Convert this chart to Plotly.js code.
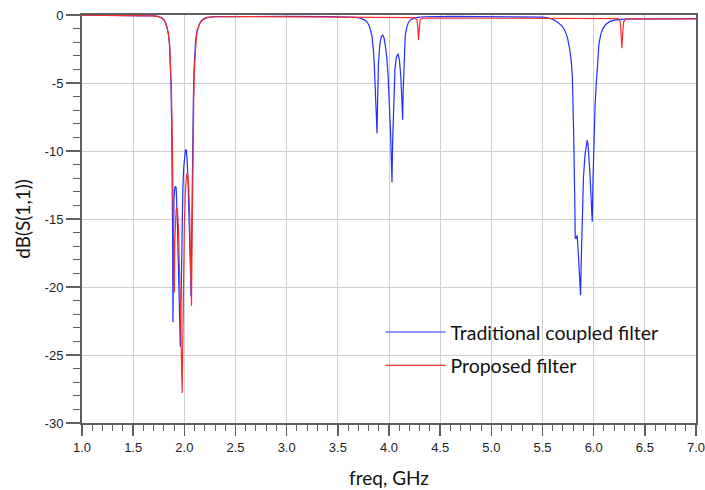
<!DOCTYPE html>
<html>
<head>
<meta charset="utf-8">
<script src="https://cdn.plot.ly/plotly-3.0.1.min.js"></script>
<style>
html,body{margin:0;padding:0;background:#fff;}
#chart{width:705px;height:490px;}
</style>
</head>
<body>
<div id="chart"></div>
<script>
// Traditional coupled filter: frequency (GHz) and dB(S(1,1))
const freqTraditional = [1.0,1.3,1.6,1.7,1.75,1.78,1.80,1.815,1.83,1.845,1.855,1.863,1.870,1.876,1.881,1.885,1.889,1.893,1.898,1.905,1.912,1.920,1.926,1.932,1.940,1.948,1.955,1.961,1.966,1.972,1.978,1.985,1.993,2.002,2.010,2.019,2.027,2.036,2.045,2.054,2.060,2.065,2.070,2.075,2.080,2.088,2.095,2.100,2.110,2.124,2.140,2.156,2.180,2.220,2.300,2.600,3.000,3.400,3.600,3.680,3.720,3.760,3.785,3.810,3.834,3.848,3.857,3.866,3.875,3.883,3.889,3.897,3.910,3.925,3.938,3.952,3.965,3.978,3.990,4.003,4.015,4.024,4.029,4.035,4.045,4.058,4.072,4.088,4.102,4.115,4.125,4.133,4.139,4.148,4.159,4.175,4.190,4.210,4.240,4.280,4.350,4.600,5.000,5.400,5.500,5.560,5.609,5.650,5.690,5.720,5.745,5.765,5.780,5.792,5.800,5.806,5.813,5.820,5.830,5.838,5.846,5.856,5.865,5.872,5.879,5.888,5.900,5.915,5.928,5.937,5.946,5.956,5.966,5.977,5.986,5.994,6.003,6.014,6.025,6.038,6.052,6.070,6.090,6.117,6.160,6.215,6.300,6.500,7.000];
const dbTraditional = [-0.02,-0.02,-0.03,-0.06,-0.12,-0.22,-0.35,-0.55,-0.9,-1.45,-2.2,-3.3,-5.2,-8.0,-11.5,-15.5,-22.6,-16.5,-13.6,-12.8,-12.6,-12.7,-13.6,-15.2,-17.8,-20.6,-22.8,-24.4,-22.0,-18.2,-15.2,-13.0,-11.3,-10.3,-9.95,-9.9,-10.6,-12.2,-14.2,-16.6,-18.8,-20.7,-16.5,-12.0,-9.0,-6.2,-4.0,-2.8,-1.9,-1.15,-0.75,-0.52,-0.32,-0.18,-0.12,-0.1,-0.1,-0.11,-0.13,-0.17,-0.24,-0.36,-0.5,-0.85,-1.57,-2.6,-3.8,-5.4,-7.2,-8.7,-6.2,-3.6,-2.2,-1.6,-1.45,-1.7,-2.3,-3.1,-4.3,-6.2,-8.6,-10.9,-12.3,-9.5,-6.0,-4.0,-3.1,-2.85,-3.3,-4.5,-6.1,-7.7,-5.5,-3.0,-1.5,-0.85,-0.55,-0.36,-0.25,-0.18,-0.13,-0.1,-0.1,-0.12,-0.15,-0.22,-0.35,-0.55,-0.8,-1.15,-1.7,-2.5,-3.3,-4.5,-6.5,-9.2,-12.6,-16.4,-16.4,-16.2,-17.0,-18.5,-19.8,-20.6,-18.0,-14.6,-12.0,-10.3,-9.4,-9.2,-9.6,-10.6,-12.0,-13.8,-15.2,-12.0,-8.7,-6.6,-5.1,-3.4,-2.1,-1.4,-1.0,-0.7,-0.47,-0.36,-0.3,-0.28,-0.27];

// Proposed filter: frequency (GHz) and dB(S(1,1))
const freqProposed = [1.0,1.3,1.6,1.7,1.75,1.78,1.80,1.815,1.83,1.845,1.857,1.866,1.873,1.879,1.885,1.891,1.897,1.902,1.907,1.913,1.920,1.928,1.935,1.943,1.951,1.959,1.966,1.973,1.979,1.985,1.992,2.000,2.010,2.020,2.031,2.041,2.050,2.058,2.064,2.070,2.075,2.080,2.086,2.092,2.098,2.105,2.115,2.128,2.145,2.162,2.186,2.225,2.300,2.600,3.000,3.500,4.000,4.250,4.272,4.282,4.288,4.294,4.304,4.330,4.600,5.000,5.500,6.000,6.240,6.260,6.270,6.276,6.283,6.293,6.315,6.600,7.000];
const dbProposed = [-0.02,-0.02,-0.03,-0.06,-0.12,-0.22,-0.35,-0.55,-0.88,-1.4,-2.2,-3.4,-5.2,-7.6,-10.5,-13.8,-17.0,-20.4,-16.5,-14.8,-14.3,-14.2,-14.6,-15.8,-17.8,-20.3,-23.0,-25.8,-27.8,-24.0,-19.2,-15.6,-13.0,-11.9,-11.6,-12.4,-14.2,-16.8,-19.2,-21.4,-17.0,-12.5,-8.8,-6.2,-4.2,-2.8,-1.85,-1.15,-0.72,-0.5,-0.32,-0.19,-0.13,-0.12,-0.13,-0.16,-0.18,-0.2,-0.35,-0.9,-1.85,-0.9,-0.35,-0.22,-0.22,-0.22,-0.22,-0.24,-0.26,-0.5,-1.4,-2.45,-1.4,-0.5,-0.28,-0.28,-0.28];

const seriesNames = ['Traditional coupled filter', 'Proposed filter'];
const xTickValues = [1.0, 1.5, 2.0, 2.5, 3.0, 3.5, 4.0, 4.5, 5.0, 5.5, 6.0, 6.5, 7.0];
const xTickLabels = ['1.0', '1.5', '2.0', '2.5', '3.0', '3.5', '4.0', '4.5', '5.0', '5.5', '6.0', '6.5', '7.0'];
const yTickValues = [0, -5, -10, -15, -20, -25, -30];
const yTickLabels = ['0', '-5', '-10', '-15', '-20', '-25', '-30'];

const traces = [
  {x: freqTraditional, y: dbTraditional, name: seriesNames[0], type: 'scatter', mode: 'lines',
   line: {color: 'rgb(35,45,255)', width: 1.2}, legendgroup: 'a'},
  {x: freqProposed, y: dbProposed, name: seriesNames[1], type: 'scatter', mode: 'lines',
   line: {color: 'rgb(245,45,45)', width: 1.2}, legendgroup: 'b'}
];

const axisLine = 'rgb(95,95,95)';
const gridCol = 'rgb(208,208,208)';

const layout = {
  width: 705, height: 490,
  margin: {l: 82, r: 9, t: 15, b: 67},
  paper_bgcolor: '#fff', plot_bgcolor: '#fff',
  showlegend: true,
  legend: {
    x: 0.486, y: 0.270, xanchor: 'left', yanchor: 'top',
    bgcolor: 'rgba(0,0,0,0)', borderwidth: 0,
    font: {family: 'Lato, sans-serif', size: 19.5, color: '#111'},
    traceorder: 'grouped', tracegroupgap: 5, itemwidth: 60
  },
  xaxis: {
    range: [1, 7], tickvals: xTickValues, ticktext: xTickLabels, ticklabeloverflow: 'allow',
    ticks: 'outside', ticklen: 11, tickwidth: 1.5, tickcolor: axisLine,
    minor: {dtick: 0.1, tick0: 1, ticks: 'outside', ticklen: 6, tickwidth: 1, tickcolor: axisLine, showgrid: false},
    showline: true, linecolor: axisLine, linewidth: 2, mirror: true,
    showgrid: true, gridcolor: gridCol, gridwidth: 1, zeroline: false,
    tickfont: {family: 'Liberation Sans, Arial, sans-serif', size: 13, color: '#222'},
    title: {text: 'freq, GHz', font: {family: 'Lato, sans-serif', size: 19, color: '#111'}, standoff: 18}
  },
  yaxis: {
    range: [-30, 0], tickvals: yTickValues, ticktext: yTickLabels, ticklabeloverflow: 'allow',
    ticks: 'outside', ticklen: 14, tickwidth: 1.5, tickcolor: axisLine,
    minor: {dtick: 1, ticks: 'outside', ticklen: 7, tickwidth: 1, tickcolor: axisLine, showgrid: false},
    showline: true, linecolor: axisLine, linewidth: 2, mirror: true,
    showgrid: true, gridcolor: gridCol, gridwidth: 1, zeroline: false,
    tickfont: {family: 'Liberation Sans, Arial, sans-serif', size: 13, color: '#222'},
    title: {text: 'dB(S(1,1))', font: {family: 'Lato, sans-serif', size: 19, color: '#111'}, standoff: 9}
  },
  shapes: [
    {type: 'rect', xref: 'paper', yref: 'paper', x0: 0.582, x1: 0.966, y0: 0.111, y1: 0.270,
     fillcolor: '#fff', line: {width: 0}, layer: 'between'}
  ]
};

Plotly.newPlot('chart', traces, layout, {displayModeBar: false, staticPlot: true});
</script>
</body>
</html>
